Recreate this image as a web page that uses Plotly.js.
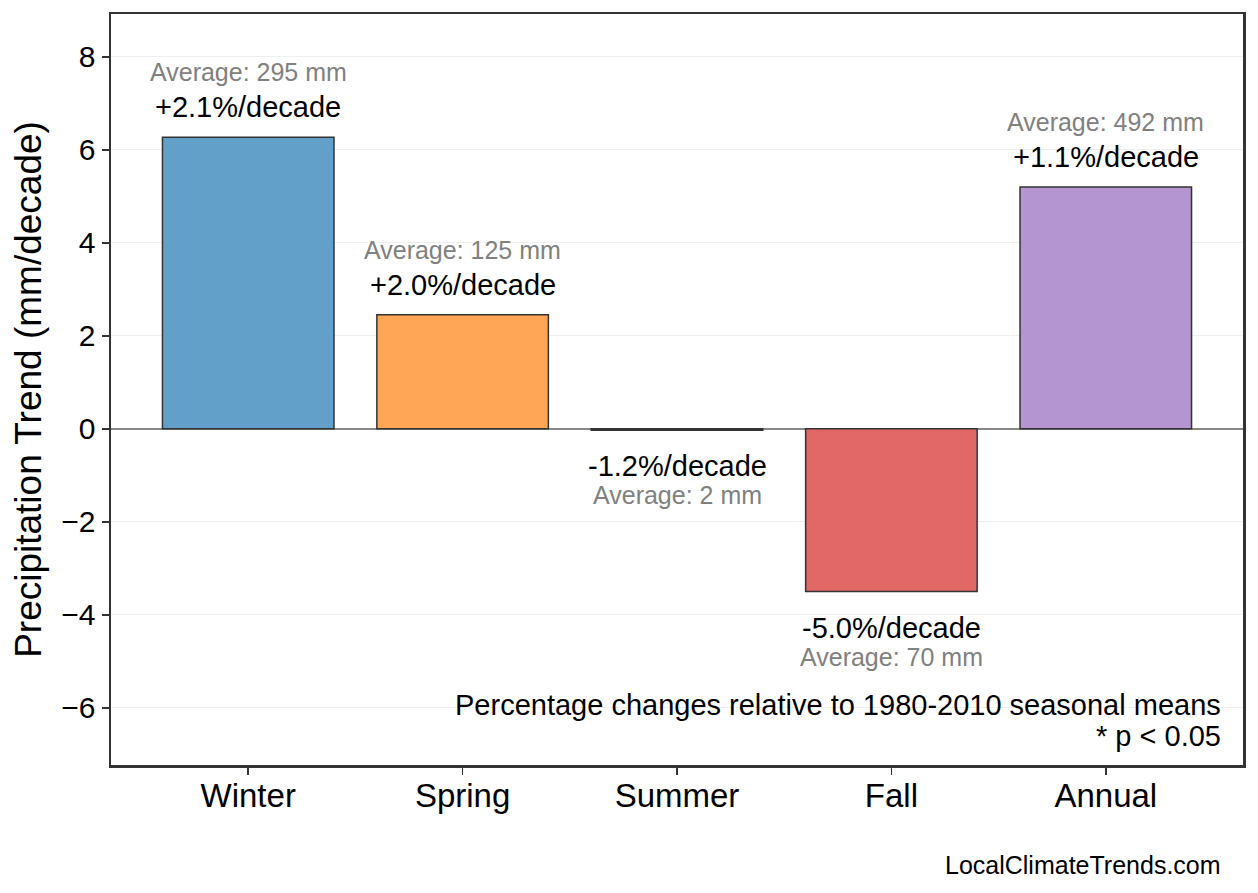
<!DOCTYPE html>
<html>
<head>
<meta charset="utf-8">
<script src="https://cdn.plot.ly/plotly-3.0.1.min.js"></script>
<style>
  html, body { margin: 0; padding: 0; background: #fff; }
  #plotly__graph { width: 1258px; height: 893px; }
</style>
</head>
<body>
<div id="plotly__graph"></div>
<script>
// **********************************************************************************************
// DATA

const seasons = ['Winter', 'Spring', 'Summer', 'Fall', 'Annual'];
const trend_mm = [6.27, 2.45, -0.03, -3.50, 5.20];
const trend_pct = ['+2.1%/decade', '+2.0%/decade', '-1.2%/decade', '-5.0%/decade', '+1.1%/decade'];
const average_mm = [295, 125, 2, 70, 492];
const bar_colors = ['#62a0ca', '#ffa556', '#6bbc6b', '#e26868', '#b494d1'];
const y_ticks = [-6, -4, -2, 0, 2, 4, 6, 8];

const plotly_graph = () => {
    const div = document.getElementById('plotly__graph');
    const font_family = '"Liberation Sans", Arial, Helvetica, sans-serif';

    let trace = {
        type: 'bar',
        x: seasons,
        y: trend_mm,
        width: 0.8,
        marker: {
            color: bar_colors,
            line: { color: '#333333', width: 1.5 }
        },
        hoverinfo: 'skip'
    };

    // labels above / below each bar
    let annotations = [];
    seasons.forEach((s, i) => {
        const up = trend_mm[i] >= 0;
        annotations.push({
            x: s, y: trend_mm[i], xref: 'x', yref: 'y',
            text: trend_pct[i], showarrow: false,
            yanchor: 'middle', yshift: up ? 30 : -36,
            font: { family: font_family, size: 29, color: '#000' }
        });
        annotations.push({
            x: s, y: trend_mm[i], xref: 'x', yref: 'y',
            text: 'Average: ' + average_mm[i] + ' mm', showarrow: false,
            yanchor: 'middle', yshift: up ? 65 : -65,
            font: { family: font_family, size: 25, color: '#808080' }
        });
    });

    annotations.push({
        xref: 'paper', yref: 'paper', x: 0.982, y: 0.080,
        xanchor: 'right', yanchor: 'middle', showarrow: false,
        text: 'Percentage changes relative to 1980-2010 seasonal means',
        font: { family: font_family, size: 29, color: '#000' }
    });
    annotations.push({
        xref: 'paper', yref: 'paper', x: 0.982, y: 0.039,
        xanchor: 'right', yanchor: 'middle', showarrow: false,
        text: '* p < 0.05',
        font: { family: font_family, size: 29, color: '#000' }
    });
    annotations.push({
        xref: 'paper', yref: 'paper', x: 0.982, y: -0.133,
        xanchor: 'right', yanchor: 'middle', showarrow: false,
        text: 'LocalClimateTrends.com',
        font: { family: font_family, size: 25, color: '#000' }
    });

    let layout = {
        width: 1258,
        height: 893,
        margin: { t: 14, r: 15, b: 128, l: 111, pad: 0 },
        paper_bgcolor: '#ffffff',
        plot_bgcolor: '#ffffff',
        showlegend: false,
        dragmode: false,
        font: { family: font_family, color: '#000' },
        xaxis: {
            range: [-0.64, 4.64],
            showgrid: false,
            zeroline: false,
            showline: true, mirror: true,
            linecolor: '#333333', linewidth: 2.5,
            ticks: 'outside', ticklen: 7, tickwidth: 1.5, tickcolor: '#333333',
            tickfont: { family: font_family, size: 33, color: '#000' },
            ticklabelstandoff: -7,
            fixedrange: true
        },
        yaxis: {
            range: [-7.23, 8.92],
            tickvals: y_ticks,
            ticktext: y_ticks.map(v => v < 0 ? '\u2212' + Math.abs(v) : String(v)),
            showgrid: true, gridcolor: '#efefef', gridwidth: 1,
            zeroline: true, zerolinecolor: '#888888', zerolinewidth: 1.5,
            showline: true, mirror: true,
            linecolor: '#333333', linewidth: 2.5,
            ticks: 'outside', ticklen: 7, tickwidth: 1.5, tickcolor: '#333333',
            tickfont: { family: font_family, size: 30, color: '#000' },
            title: {
                text: 'Precipitation Trend (mm/decade)',
                font: { family: font_family, size: 37, color: '#000' },
                standoff: 9
            },
            fixedrange: true
        },
        annotations: annotations
    };

    const config = {
        responsive: false,
        displaylogo: false,
        displayModeBar: false,
        staticPlot: true
    };

    Plotly.newPlot(div, [trace], layout, config);
};

plotly_graph();
</script>
</body>
</html>
